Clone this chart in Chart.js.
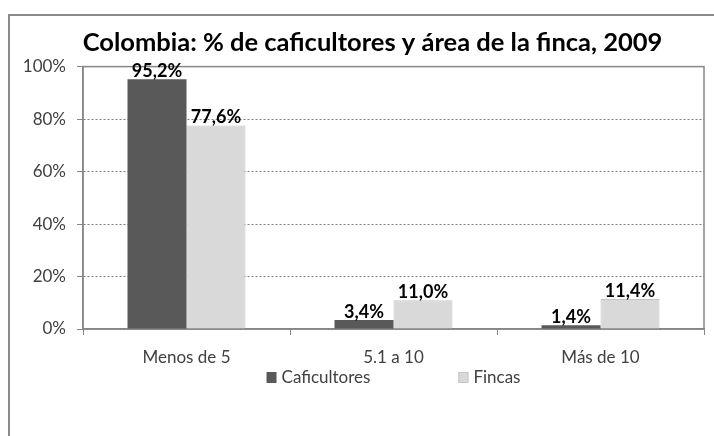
<!DOCTYPE html>
<html>
<head>
<meta charset="utf-8">
<script src="https://cdn.jsdelivr.net/npm/chart.js@4"></script>
<style>
  html, body { margin: 0; padding: 0; background: #fff; overflow: hidden; }
  #wrap { position: relative; width: 714px; height: 436px; }
  #marco { position: absolute; left: 8px; top: 14px; width: 760px; height: 480px; border: 2px solid #8a8a8a; }
  canvas { position: absolute; left: 0; top: 0; }
</style>
</head>
<body>
<div id="wrap">
  <div id="marco"></div>
  <canvas id="myChart" width="714" height="436"></canvas>
</div>
<script>
// Datos del gráfico
const categorias = ["Menos de 5", "5.1 a 10", "Más de 10"];
const caficultores = [95.2, 3.4, 1.4];
const fincas = [77.6, 11.0, 11.4];
const ticksY = [0, 20, 40, 60, 80, 100];
const titulo = "Colombia: % de caficultores y área de la finca, 2009";

const fuente = "Lato";
const gris = "#868686";

// formato 95,2%
function fmt(v) {
  return v.toFixed(1).replace(".", ",") + "%";
}

// el título en Excel no está centrado en todo el lienzo
const moverTitulo = {
  id: "moverTitulo",
  afterLayout(chart) {
    if (chart.titleBlock) chart.titleBlock.left += 41;
  }
};

// marco del área de trazado (arriba y a la derecha)
const marcoPlot = {
  id: "marcoPlot",
  beforeDatasetsDraw(chart) {
    const a = chart.chartArea;
    const ctx = chart.ctx;
    ctx.save();
    ctx.strokeStyle = gris;
    ctx.lineWidth = 1.5;
    ctx.strokeRect(a.left, a.top, a.right - a.left, a.bottom - a.top);
    ctx.restore();
  }
};

// etiquetas de valor encima de las barras
const etiquetas = {
  id: "etiquetas",
  afterDatasetsDraw(chart) {
    const ctx = chart.ctx;
    ctx.save();
    ctx.font = "bold 18px " + fuente;
    ctx.fillStyle = "#000";
    ctx.textAlign = "center";
    ctx.textBaseline = "alphabetic";
    chart.data.datasets.forEach((ds, i) => {
      chart.getDatasetMeta(i).data.forEach((bar, j) => {
        ctx.fillText(fmt(ds.data[j]), bar.x, bar.y - 2);
      });
    });
    ctx.restore();
  }
};

// leyenda debajo de las categorías
const leyenda = {
  id: "leyenda",
  afterDraw(chart) {
    const ctx = chart.ctx;
    const a = chart.chartArea;
    const hueco = 88;
    const caja = 10;
    const y = 378;
    ctx.save();
    ctx.font = "17px " + fuente;
    const anchos = chart.data.datasets.map(ds => caja + 5 + ctx.measureText(ds.label).width);
    const total = anchos.reduce((s, w) => s + w, 0) + hueco * (anchos.length - 1);
    let x = (a.left + a.right) / 2 - total / 2;
    ctx.textBaseline = "middle";
    ctx.textAlign = "left";
    chart.data.datasets.forEach((ds, i) => {
      ctx.fillStyle = ds.backgroundColor;
      ctx.fillRect(x, y - 6, caja, 11);
      if (ds.borderWidth) {
        ctx.strokeStyle = ds.borderColor;
        ctx.lineWidth = 1;
        ctx.strokeRect(x + 0.5, y - 5.5, caja - 1, 10);
      }
      ctx.fillStyle = "#404040";
      ctx.fillText(ds.label, x + caja + 5, y);
      x += anchos[i] + hueco;
    });
    ctx.restore();
  }
};

const ctx = document.getElementById("myChart").getContext("2d");
new Chart(ctx, {
  type: "bar",
  data: {
    labels: categorias,
    datasets: [
      {
        label: "Caficultores",
        data: caficultores,
        backgroundColor: "#595959",
        borderWidth: 0
      },
      {
        label: "Fincas",
        data: fincas,
        backgroundColor: "#d9d9d9",
        borderColor: "#c4c4c4",
        borderWidth: 1
      }
    ]
  },
  options: {
    responsive: false,
    animation: false,
    devicePixelRatio: 1,
    categoryPercentage: 0.57,
    barPercentage: 1.0,
    layout: {
      padding: { left: 0, right: 10, top: 0, bottom: 67 }
    },
    scales: {
      x: {
        afterFit(scale) { scale.height = 40; },
        grid: {
          offset: true,
          drawOnChartArea: false,
          drawTicks: true,
          tickLength: 6,
          tickColor: gris
        },
        border: { display: true, color: gris, width: 1.5 },
        ticks: {
          color: "#404040",
          padding: 12,
          font: { family: fuente, size: 17 }
        }
      },
      y: {
        min: ticksY[0],
        max: ticksY[ticksY.length - 1],
        afterFit(scale) { scale.width = 83; },
        afterBuildTicks(scale) { scale.ticks = ticksY.map(v => ({ value: v })); },
        grid: {
          color: "#7a7a7a",
          lineWidth: 1,
          drawTicks: true,
          tickLength: 6,
          tickColor: gris,
          tickBorderDash: []
        },
        border: { display: true, color: gris, width: 1.5, dash: [2, 2] },
        ticks: {
          color: "#404040",
          padding: 11,
          font: { family: fuente, size: 17 },
          callback: v => v + "%"
        }
      }
    },
    plugins: {
      legend: { display: false },
      tooltip: { enabled: false },
      title: {
        display: true,
        text: titulo,
        color: "#000",
        font: { family: fuente, size: 25.5, weight: "bold" },
        padding: { top: 27, bottom: 9 }
      }
    }
  },
  plugins: [moverTitulo, marcoPlot, etiquetas, leyenda]
});
</script>
</body>
</html>
